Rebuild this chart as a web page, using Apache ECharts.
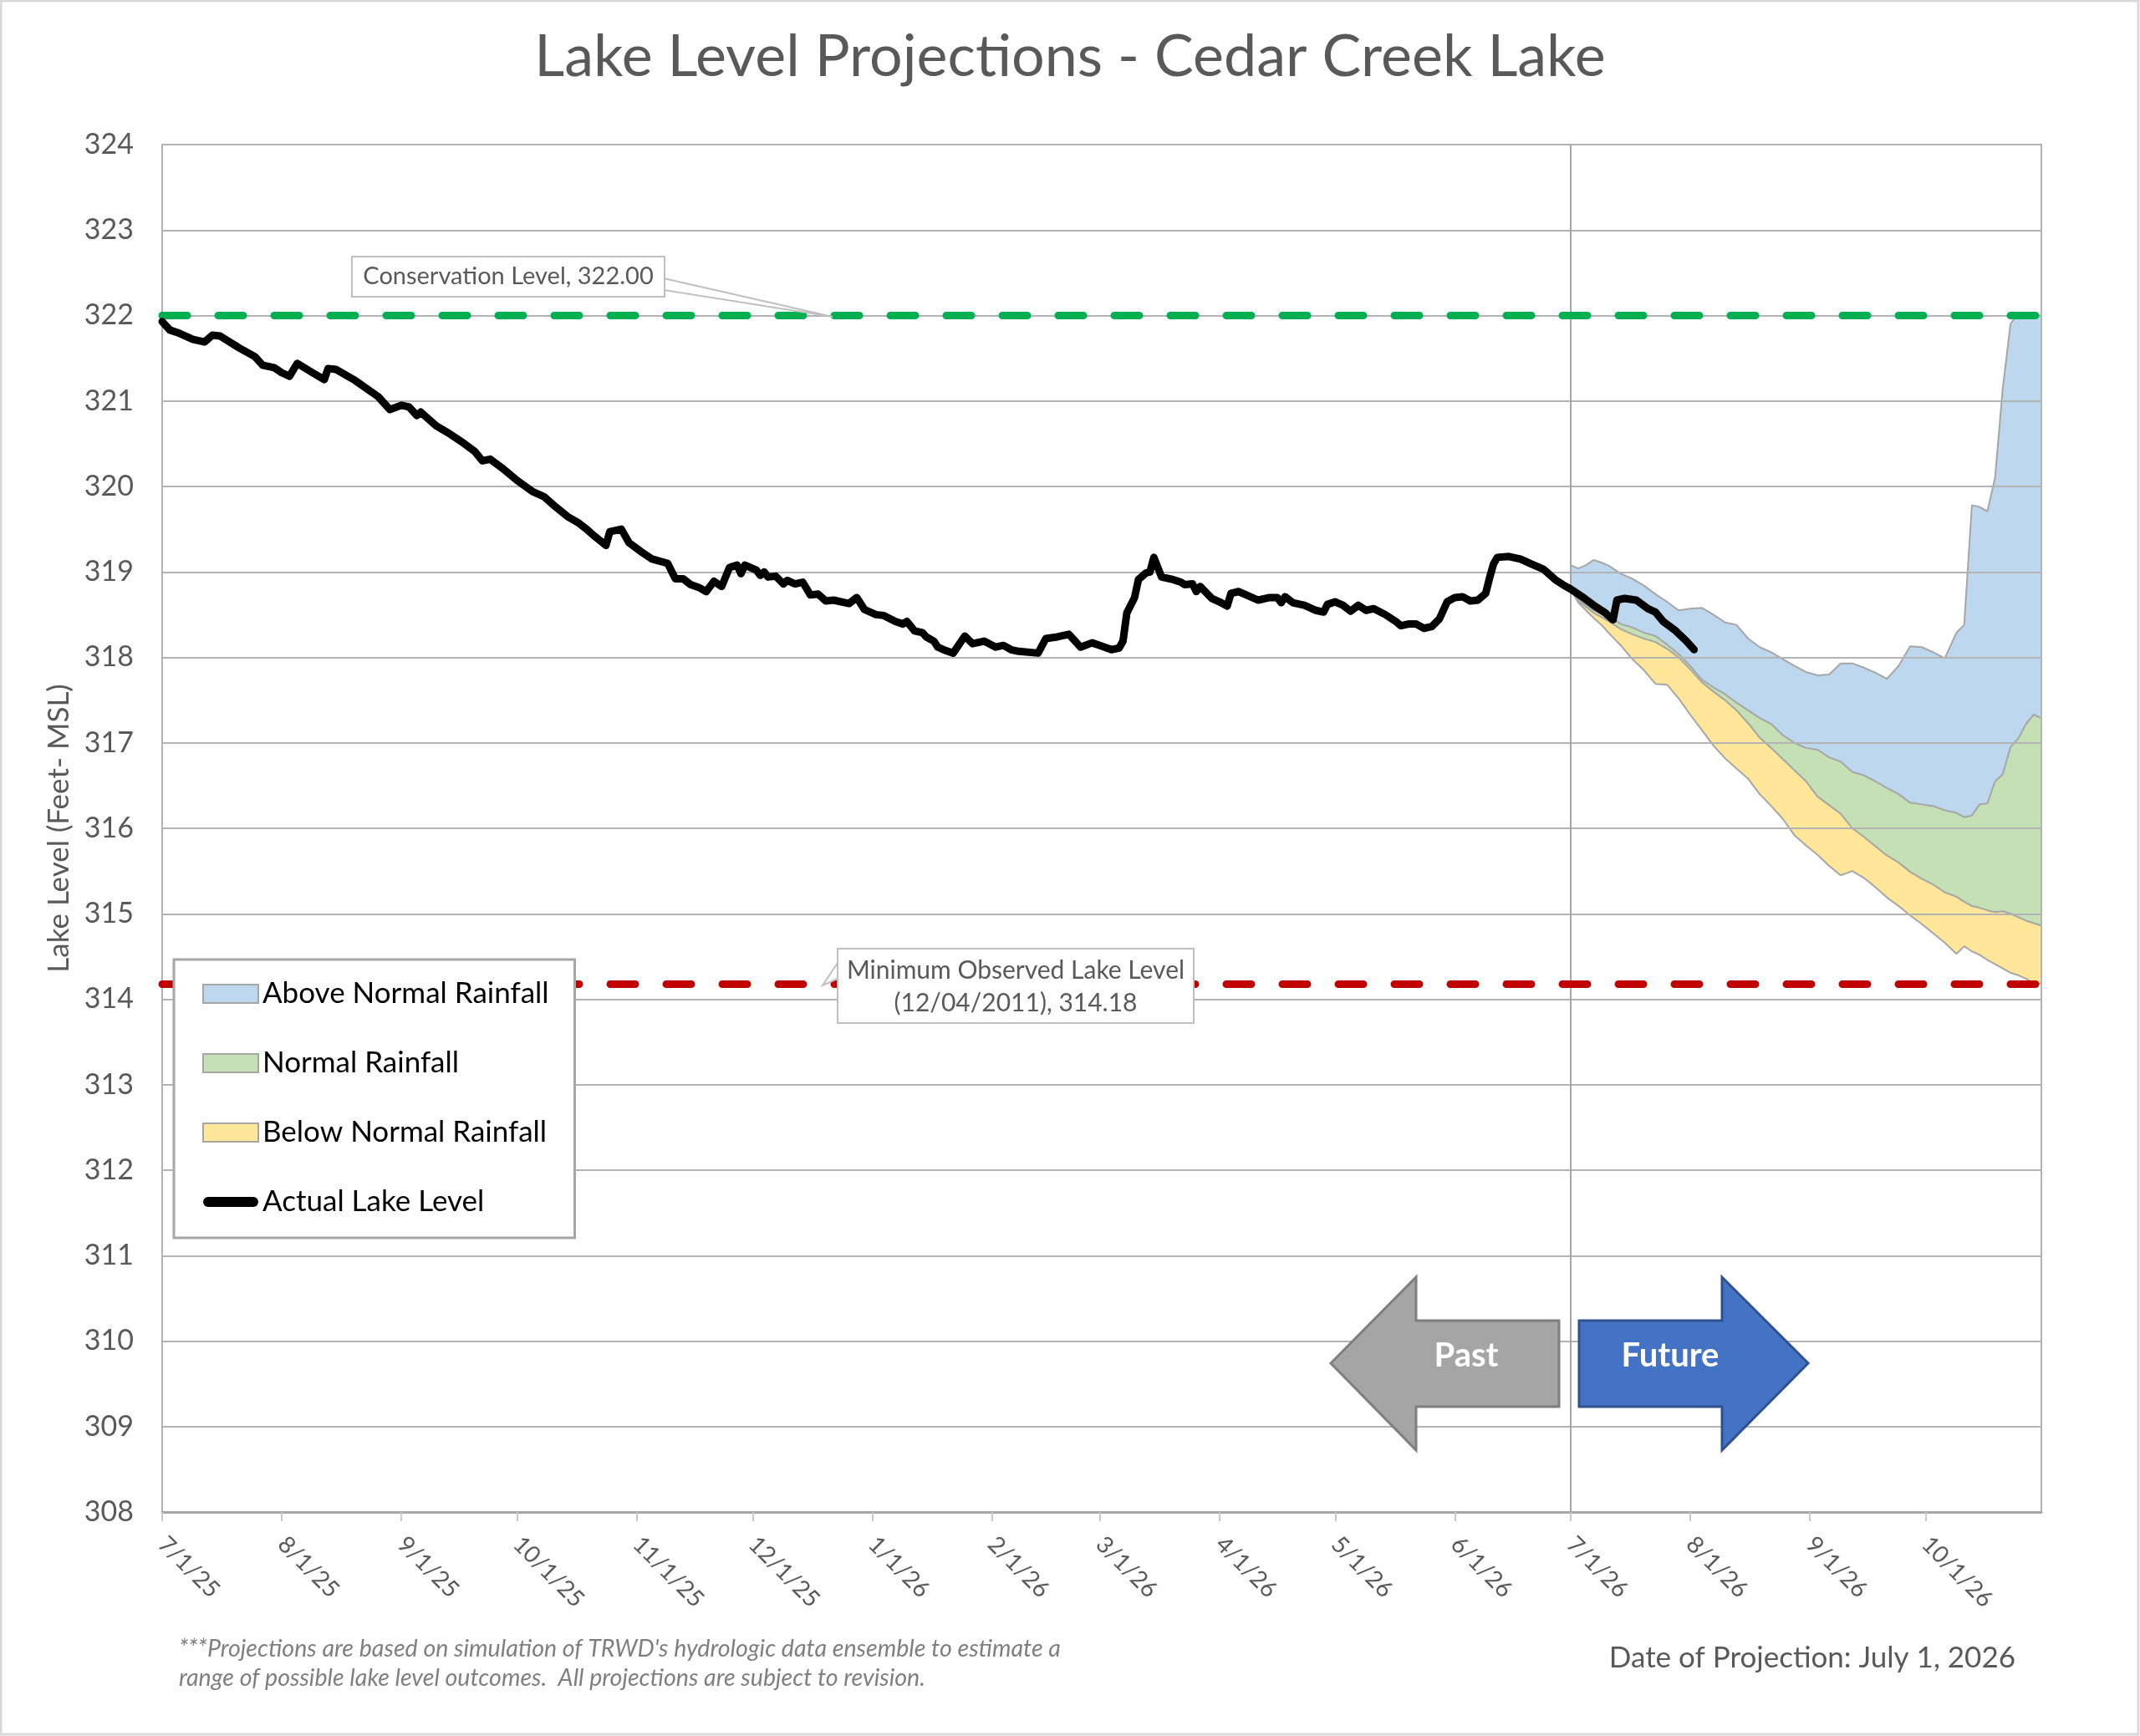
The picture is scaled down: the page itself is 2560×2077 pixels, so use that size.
<!DOCTYPE html>
<html>
<head>
<meta charset="utf-8">
<script src="https://cdn.jsdelivr.net/npm/echarts@6/dist/echarts.min.js"></script>
<style>
  html, body { margin: 0; padding: 0; background: #fff; }
  #chart { width: 2560px; height: 2077px; }
</style>
</head>
<body>
<div id="chart"></div>
<script>
// actual lake level
const actualDates = [
  '2025-07-01','2025-07-03','2025-07-05','2025-07-09','2025-07-12','2025-07-14','2025-07-16','2025-07-21','2025-07-25','2025-07-27','2025-07-30',
  '2025-08-01','2025-08-03','2025-08-05','2025-08-09','2025-08-12','2025-08-13','2025-08-15','2025-08-20','2025-08-26','2025-08-29',
  '2025-09-01','2025-09-03','2025-09-05','2025-09-06','2025-09-10','2025-09-13','2025-09-17','2025-09-20','2025-09-22','2025-09-24','2025-09-27',
  '2025-10-01','2025-10-05','2025-10-08','2025-10-11','2025-10-14','2025-10-17','2025-10-19','2025-10-21','2025-10-24','2025-10-25','2025-10-28','2025-10-30',
  '2025-11-02','2025-11-05','2025-11-09','2025-11-11','2025-11-13','2025-11-15','2025-11-17','2025-11-19','2025-11-21','2025-11-23','2025-11-25','2025-11-27','2025-11-28','2025-11-29',
  '2025-12-02','2025-12-03','2025-12-04','2025-12-05','2025-12-07','2025-12-09','2025-12-10','2025-12-12','2025-12-14','2025-12-16','2025-12-18','2025-12-20','2025-12-22','2025-12-26','2025-12-28','2025-12-30',
  '2026-01-02','2026-01-04','2026-01-07','2026-01-09','2026-01-10','2026-01-12','2026-01-14','2026-01-15','2026-01-17','2026-01-18','2026-01-20','2026-01-22','2026-01-25','2026-01-27','2026-01-30',
  '2026-02-02','2026-02-04','2026-02-06','2026-02-08','2026-02-13','2026-02-15','2026-02-18','2026-02-21','2026-02-24','2026-02-27',
  '2026-03-01','2026-03-04','2026-03-06','2026-03-07','2026-03-08','2026-03-10','2026-03-11','2026-03-13','2026-03-14','2026-03-15','2026-03-17','2026-03-20','2026-03-22','2026-03-23','2026-03-25','2026-03-26','2026-03-27','2026-03-30',
  '2026-04-01','2026-04-03','2026-04-04','2026-04-06','2026-04-08','2026-04-11','2026-04-14','2026-04-16','2026-04-17','2026-04-18','2026-04-20','2026-04-23','2026-04-26','2026-04-28','2026-04-29',
  '2026-05-01','2026-05-03','2026-05-05','2026-05-07','2026-05-09','2026-05-11','2026-05-14','2026-05-17','2026-05-18','2026-05-20','2026-05-22','2026-05-24','2026-05-26','2026-05-28','2026-05-30',
  '2026-06-01','2026-06-03','2026-06-05','2026-06-07','2026-06-09','2026-06-10','2026-06-11','2026-06-12','2026-06-15','2026-06-18','2026-06-21','2026-06-24','2026-06-27','2026-06-29',
  '2026-07-01','2026-07-04','2026-07-07','2026-07-10','2026-07-12','2026-07-13','2026-07-15','2026-07-18','2026-07-21','2026-07-23','2026-07-25','2026-07-28','2026-07-31','2026-08-02'
];
const actualLevels = [
  321.93,321.83,321.80,321.72,321.69,321.77,321.76,321.62,321.52,321.42,321.39,
  321.33,321.29,321.44,321.33,321.25,321.38,321.37,321.24,321.05,320.90,
  320.95,320.93,320.83,320.87,320.71,320.63,320.51,320.41,320.30,320.32,320.22,
  320.07,319.94,319.88,319.76,319.65,319.57,319.50,319.42,319.31,319.47,319.50,319.34,
  319.24,319.15,319.10,318.92,318.92,318.85,318.82,318.77,318.89,318.83,319.05,319.08,318.98,319.08,
  319.02,318.96,319.00,318.94,318.95,318.86,318.90,318.86,318.88,318.73,318.74,318.66,318.67,318.63,318.70,318.56,
  318.50,318.49,318.42,318.39,318.42,318.31,318.29,318.24,318.19,318.12,318.08,318.05,318.25,318.16,318.19,
  318.12,318.14,318.09,318.07,318.05,318.22,318.24,318.27,318.12,318.17,
  318.14,318.09,318.11,318.19,318.52,318.70,318.91,318.99,319.00,319.17,318.94,318.91,318.88,318.85,318.86,318.77,318.83,318.69,
  318.65,318.60,318.75,318.77,318.73,318.67,318.70,318.70,318.64,318.71,318.64,318.61,318.55,318.53,318.62,
  318.65,318.61,318.54,318.61,318.55,318.57,318.50,318.41,318.37,318.39,318.39,318.34,318.36,318.45,318.65,
  318.70,318.71,318.66,318.67,318.75,318.93,319.09,319.17,319.18,319.15,319.09,319.03,318.91,318.85,
  318.80,318.71,318.61,318.52,318.44,318.67,318.69,318.67,318.57,318.53,318.42,318.32,318.19,318.09
];

// projection envelope, boundaries of the three rainfall bands
const projDates = [
  '2026-07-01','2026-07-03','2026-07-05','2026-07-07','2026-07-09','2026-07-11',
  '2026-07-14','2026-07-17','2026-07-20','2026-07-23','2026-07-26','2026-07-29','2026-08-01','2026-08-04','2026-08-07','2026-08-10',
  '2026-08-13','2026-08-16','2026-08-19','2026-08-22','2026-08-25','2026-08-28','2026-08-31','2026-09-03','2026-09-06','2026-09-09',
  '2026-09-12','2026-09-15','2026-09-18','2026-09-21','2026-09-24','2026-09-27','2026-09-30','2026-10-03','2026-10-06',
  '2026-10-09','2026-10-11','2026-10-13','2026-10-15','2026-10-17','2026-10-19','2026-10-21','2026-10-23','2026-10-25','2026-10-27','2026-10-29','2026-10-31'
];
const belowNormalLow = [
  318.80,318.64,318.55,318.46,318.38,318.28,
  318.14,317.98,317.85,317.69,317.68,317.52,317.33,317.15,316.97,316.82,
  316.70,316.58,316.40,316.26,316.11,315.92,315.80,315.69,315.56,315.45,
  315.50,315.42,315.31,315.19,315.09,314.98,314.88,314.77,314.66,
  314.53,314.62,314.56,314.52,314.46,314.41,314.36,314.31,314.28,314.24,314.19,314.18
];
const belowNormalHigh = [
  318.80,318.66,318.59,318.52,318.47,318.42,
  318.33,318.27,318.22,318.18,318.10,318.00,317.86,317.71,317.60,317.50,
  317.38,317.23,317.06,316.94,316.81,316.68,316.55,316.37,316.27,316.17,
  316.00,315.90,315.79,315.68,315.60,315.49,315.41,315.34,315.25,
  315.20,315.14,315.09,315.07,315.04,315.02,315.03,315.00,314.96,314.92,314.89,314.86
];
const normalHigh = [
  318.80,318.68,318.61,318.55,318.51,318.48,
  318.39,318.35,318.29,318.25,318.15,318.04,317.90,317.74,317.65,317.57,
  317.47,317.38,317.29,317.22,317.09,317.00,316.94,316.92,316.83,316.78,
  316.66,316.62,316.55,316.47,316.40,316.30,316.28,316.26,316.21,
  316.18,316.13,316.15,316.28,316.29,316.55,316.63,316.95,317.05,317.22,317.33,317.29
];
const aboveNormalHigh = [
  319.08,319.04,319.08,319.14,319.11,319.07,
  318.98,318.92,318.84,318.74,318.65,318.55,318.57,318.58,318.50,318.41,
  318.38,318.22,318.12,318.06,317.98,317.90,317.83,317.79,317.80,317.93,
  317.93,317.88,317.82,317.75,317.90,318.13,318.12,318.06,317.99,
  318.29,318.38,319.78,319.76,319.71,320.10,321.15,321.90,322.03,322.00,322.00,322.00
];

const conservationLevel = 322.00;
const minObservedLevel = 314.18;
const projectionStart = '2026-07-01';
const axisStart = '2025-07-01';
const axisEnd = '2026-10-31';

var chart = echarts.init(document.getElementById('chart'));
var FONT = 'Lato';
var DAY = 86400000;

function ts(d) { return new Date(d + 'T00:00:00').getTime(); }
function pairs(dates, vals) {
  return dates.map(function (d, i) { return [ts(d), vals[i]]; });
}
// thickness of each band, for stacking
function band(top, bottom) {
  return projDates.map(function (d, i) { return [ts(d), +(top[i] - bottom[i]).toFixed(3)]; });
}
var edge = { color: '#A6A6A6', width: 2 };

var option = {
  backgroundColor: '#fff',
  textStyle: { fontFamily: FONT },
  animation: false,
  title: {
    text: 'Lake Level Projections - Cedar Creek Lake',
    left: 'center',
    top: 28,
    textStyle: { fontFamily: FONT, fontSize: 70, fontWeight: 'normal', color: '#595959' }
  },
  legend: {
    left: 208,
    top: 1148,
    z: 10,
    orient: 'vertical',
    padding: [21, 31, 23, 34],
    itemGap: 43,
    itemWidth: 66,
    itemHeight: 22,
    backgroundColor: '#fff',
    borderColor: '#A6A6A6',
    borderWidth: 3,
    textStyle: { fontFamily: FONT, fontSize: 35, color: '#000', lineHeight: 40 },
    data: [
      { name: 'Above Normal Rainfall', icon: 'rect', itemStyle: { color: '#BDD7EE', borderColor: '#A6A6A6', borderWidth: 2 } },
      { name: 'Normal Rainfall', icon: 'rect', itemStyle: { color: '#C5E0B4', borderColor: '#A6A6A6', borderWidth: 2 } },
      { name: 'Below Normal Rainfall', icon: 'rect', itemStyle: { color: '#FFE699', borderColor: '#A6A6A6', borderWidth: 2 } },
      { name: 'Actual Lake Level', icon: 'path://M0,0 M66,22 M6,5 L60,5 A6,6 0 0 1 60,17 L6,17 A6,6 0 0 1 6,5 Z', itemStyle: { color: '#000', borderWidth: 0 } }
    ]
  },
  grid: {
    left: 194, right: 118, top: 173, bottom: 268,
    show: true, borderColor: '#B3B3B3', borderWidth: 2, z: 3
  },
  xAxis: {
    type: 'time',
    min: ts(axisStart),
    max: ts(axisEnd),
    splitNumber: 16,
    minInterval: 28 * DAY,
    maxInterval: 31 * DAY,
    z: 3,
    axisLine: { show: true, lineStyle: { color: '#A6A6A6', width: 3 } },
    axisTick: { show: true, length: 11, lineStyle: { color: '#C8C8C8', width: 2 } },
    splitLine: { show: false },
    axisLabel: {
      rotate: -45,
      margin: 34,
      showMaxLabel: false,
      fontFamily: FONT,
      fontSize: 28,
      fontWeight: 'normal',
      color: '#595959',
      formatter: function (v) {
        var d = new Date(v);
        return (d.getMonth() + 1) + '/' + d.getDate() + '/' + String(d.getFullYear()).slice(2);
      }
    }
  },
  yAxis: {
    type: 'value',
    min: 308,
    max: 324,
    interval: 1,
    z: 3,
    name: 'Lake Level (Feet- MSL)',
    nameLocation: 'middle',
    nameGap: 106,
    nameTextStyle: { fontFamily: FONT, fontSize: 35, color: '#595959' },
    axisLine: { show: true, lineStyle: { color: '#B3B3B3', width: 2 } },
    axisTick: { show: false },
    axisLabel: { margin: 34, fontFamily: FONT, fontSize: 34, color: '#595959' },
    splitLine: { show: true, lineStyle: { color: '#B3B3B3', width: 2 } }
  },
  series: [
    {
      name: 'projBase', type: 'line', stack: 'proj', symbol: 'none', z: 1, silent: true,
      lineStyle: edge,
      data: pairs(projDates, belowNormalLow)
    },
    {
      name: 'Below Normal Rainfall', type: 'line', stack: 'proj', symbol: 'none', z: 1, silent: true,
      lineStyle: edge, areaStyle: { color: '#FFE699', opacity: 1 },
      data: band(belowNormalHigh, belowNormalLow)
    },
    {
      name: 'Normal Rainfall', type: 'line', stack: 'proj', symbol: 'none', z: 1, silent: true,
      lineStyle: edge, areaStyle: { color: '#C5E0B4', opacity: 1 },
      data: band(normalHigh, belowNormalHigh)
    },
    {
      name: 'Above Normal Rainfall', type: 'line', stack: 'proj', symbol: 'none', z: 1, silent: true,
      lineStyle: edge, areaStyle: { color: '#BDD7EE', opacity: 1 },
      data: band(aboveNormalHigh, normalHigh)
    },
    {
      name: 'Actual Lake Level', type: 'line', symbol: 'none', z: 6,
      lineStyle: { color: '#000', width: 9, cap: 'round', join: 'round' },
      data: pairs(actualDates, actualLevels),
      markLine: {
        silent: true,
        symbol: ['none', 'none'],
        label: { show: false },
        data: [
          { xAxis: ts(projectionStart), lineStyle: { color: '#A6A6A6', width: 2, type: 'solid' } },
          { yAxis: conservationLevel, lineStyle: { color: '#00B050', width: 9, type: [30, 37], cap: 'round' } },
          { yAxis: minObservedLevel, lineStyle: { color: '#C00000', width: 9, type: [30, 37], cap: 'round' } }
        ]
      }
    }
  ],
  graphic: [
    { type: 'rect', silent: true, shape: { x: 1, y: 1, width: 2557, height: 2074 }, style: { fill: 'none', stroke: '#D9D9D9', lineWidth: 3 }, z: 0 },
    // conservation callout
    { type: 'polygon', silent: true, z: 20, shape: { points: [[794, 333], [996, 379], [794, 347]] }, style: { fill: '#fff', stroke: '#BFBFBF', lineWidth: 2 } },
    { type: 'rect', silent: true, z: 21, shape: { x: 421, y: 307, width: 374, height: 48 }, style: { fill: '#fff', stroke: '#BFBFBF', lineWidth: 2 } },
    { type: 'text', silent: true, z: 22, x: 608, y: 331, style: { text: 'Conservation Level, 322.00', font: '29px Lato', fill: '#595959', align: 'center', verticalAlign: 'middle' } },
    // minimum observed callout
    { type: 'polygon', silent: true, z: 20, shape: { points: [[1004, 1149], [984, 1179], [1004, 1170]] }, style: { fill: '#fff', stroke: '#BFBFBF', lineWidth: 2 } },
    { type: 'rect', silent: true, z: 21, shape: { x: 1002, y: 1135, width: 426, height: 89 }, style: { fill: '#fff', stroke: '#BFBFBF', lineWidth: 2 } },
    { type: 'text', silent: true, z: 22, x: 1215, y: 1181, style: { text: 'Minimum Observed Lake Level\n(12/04/2011), 314.18', font: '30px Lato', lineHeight: 39, fill: '#595959', align: 'center', verticalAlign: 'middle' } },
    // past / future arrows
    { type: 'polygon', silent: true, z: 20, shape: { points: [[1592, 1631], [1694, 1528], [1694, 1580], [1865, 1580], [1865, 1683], [1694, 1683], [1694, 1735]] }, style: { fill: '#A5A5A5', stroke: '#7F7F7F', lineWidth: 3 } },
    { type: 'text', silent: true, z: 21, x: 1754, y: 1622, style: { text: 'Past', font: 'bold 40px Lato', fill: '#fff', align: 'center', verticalAlign: 'middle' } },
    { type: 'polygon', silent: true, z: 20, shape: { points: [[1889, 1580], [2060, 1580], [2060, 1528], [2163, 1631], [2060, 1735], [2060, 1683], [1889, 1683]] }, style: { fill: '#4472C4', stroke: '#2F528F', lineWidth: 3 } },
    { type: 'text', silent: true, z: 21, x: 1998, y: 1622, style: { text: 'Future', font: 'bold 40px Lato', fill: '#fff', align: 'center', verticalAlign: 'middle' } },
    // notes
    { type: 'text', silent: true, z: 20, x: 214, y: 1973, style: { text: "***Projections are based on simulation of TRWD's hydrologic data ensemble to estimate a", font: 'italic 28.6px Lato', fill: '#7F7F7F', align: 'left', verticalAlign: 'middle' } },
    { type: 'text', silent: true, z: 20, x: 214, y: 2008, style: { text: 'range of possible lake level outcomes.  All projections are subject to revision.', font: 'italic 28.6px Lato', fill: '#7F7F7F', align: 'left', verticalAlign: 'middle' } },
    { type: 'text', silent: true, z: 20, x: 2411, y: 1984, style: { text: 'Date of Projection: July 1, 2026', font: '35px Lato', fill: '#595959', align: 'right', verticalAlign: 'middle' } }
  ]
};
chart.setOption(option);
</script>
</body>
</html>
